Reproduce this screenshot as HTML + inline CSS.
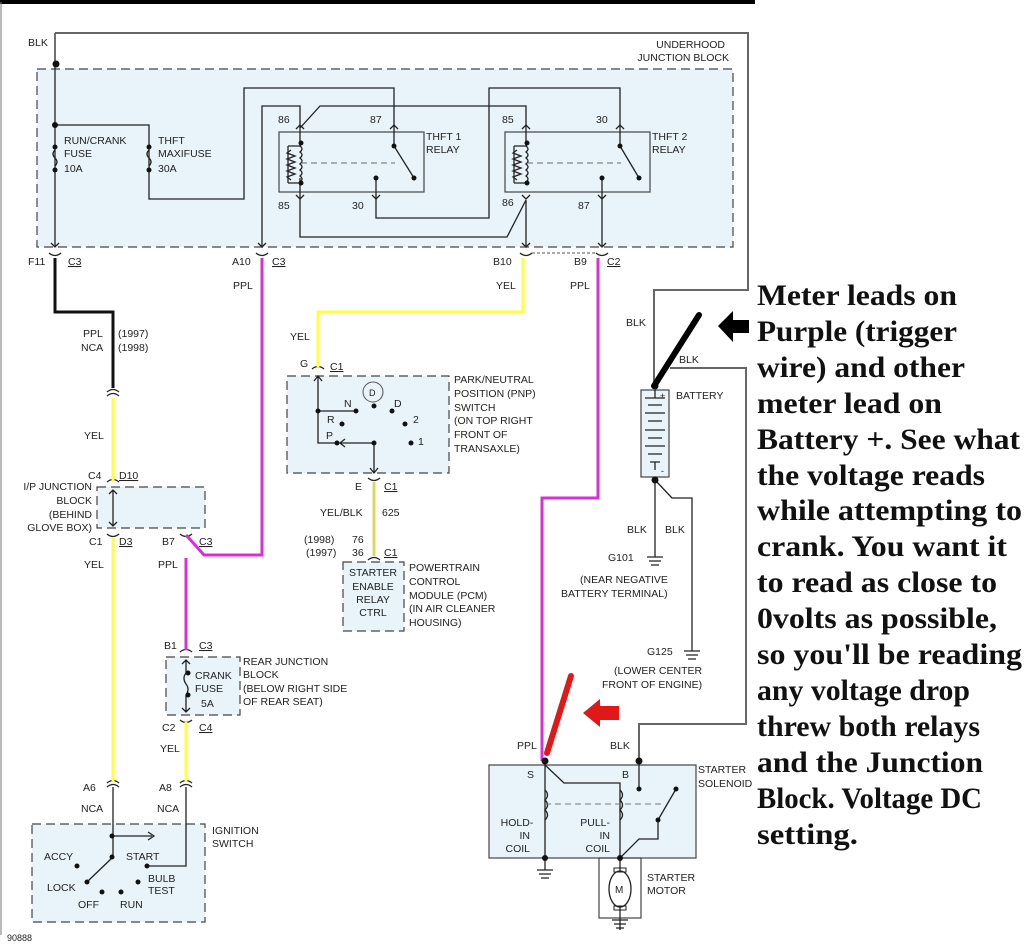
<!DOCTYPE html>
<html><head><meta charset="utf-8"><style>
html,body{margin:0;padding:0;background:#fff;}
svg{display:block;}
.t{font-family:"Liberation Sans",sans-serif;font-size:10.5px;fill:#222;}
.s{font-family:"Liberation Serif",serif;font-weight:bold;font-size:30px;fill:#111;}
</style></head><body>
<svg width="1030" height="950" viewBox="0 0 1030 950" xmlns="http://www.w3.org/2000/svg">
<rect width="1030" height="950" fill="#fff"/>
<line x1="0" y1="2" x2="755" y2="2" stroke="#000" stroke-width="4"/>
<line x1="1" y1="2" x2="1" y2="935" stroke="#777" stroke-width="1"/>

<g fill="#e8f4fa" stroke="#444" stroke-width="1.2" stroke-dasharray="9,5">
<rect x="37" y="69" width="696" height="178"/>
<rect x="97" y="487" width="108" height="41"/>
<rect x="287" y="376" width="162" height="97"/>
<rect x="343" y="562" width="61" height="69"/>
<rect x="166" y="657" width="74" height="58"/>
<rect x="32" y="824" width="173" height="98"/>
</g>
<g fill="#e8f4fa" stroke="#444" stroke-width="1.2">
<rect x="279" y="132" width="145" height="60"/>
<rect x="505" y="132" width="145" height="60"/>
<rect x="489" y="765" width="207" height="93"/>
<rect x="599" y="858" width="42" height="60" fill="none"/>
<rect x="641" y="390" width="28" height="87"/>
</g>

<g fill="none" stroke="#222" stroke-width="1.3">
<path d="M55,33 V247"/>
<path d="M55,125 H149 V199 H244 V88 H394 V146"/>
<path d="M262,247 V106 H300 V146"/>
<path d="M300,128 L320,106 H526 V146"/>
<path d="M300,178 V237 H507 L526,200 V247"/>
<path d="M376,178 V218 H489 V88 H620 V146"/>
<path d="M602,178 V247"/>
<path d="M394,146 L414,178"/><path d="M620,146 L639,178"/>
<path d="M288,146 H301 M288,183 H301 M288,146 V183"/>
<path d="M514,146 H527 M514,183 H527 M514,146 V183"/>
<path d="M291,150 l-4,3 8,3 -8,3 8,3 -8,3 8,3 -8,3 8,3 -8,3 4,3"/>
<path d="M517,150 l-4,3 8,3 -8,3 8,3 -8,3 8,3 -8,3 8,3 -8,3 4,3"/>
<path d="M300,146 q4,3 0,6 q4,3 0,6 q4,3 0,6 q4,3 0,6 q4,3 0,6 q4,3 0,6"/>
<path d="M526,146 q4,3 0,6 q4,3 0,6 q4,3 0,6 q4,3 0,6 q4,3 0,6 q4,3 0,6"/>
<path d="M55,150 q-4,4 0,8 q4,4 0,8"/><path d="M149,150 q-4,4 0,8 q4,4 0,8"/>
<path d="M51,243 l4,4 4,-4 M258,243 l4,4 4,-4 M522,243 l4,4 4,-4 M598,243 l4,4 4,-4"/>
<path d="M296,129 l4,-4 4,4 M390,129 l4,-4 4,4 M522,129 l4,-4 4,4 M616,129 l4,-4 4,4"/>
<path d="M296,195 l4,4 4,-4 M372,195 l4,4 4,-4 M522,195 l4,4 4,-4 M598,195 l4,4 4,-4"/>
<path d="M49,253 q6,5 12,0 M256,253 q6,5 12,0 M520,253 q6,5 12,0 M596,253 q6,5 12,0"/>
<path d="M107,392 q6,-5 12,0 M107,396 q6,-5 12,0"/>
<path d="M107,482 q6,-5 12,0 M107,534 q6,5 12,0 M180,534 q6,5 12,0 M312,369 q6,-5 12,0 M368,478 q6,5 12,0 M368,560 q6,-5 12,0 M180,652 q6,-5 12,0 M180,720 q6,5 12,0"/>
<path d="M107,783 q6,-5 12,0 M107,787 q6,-5 12,0 M180,783 q6,-5 12,0 M180,787 q6,-5 12,0"/>
<path d="M113,490 V526 M109,494 l4,-4 4,4 M109,522 l4,4 4,-4"/>
<path d="M318,376 V443 H337 M314,381 l4,-5 4,5 M318,411 H356 M374,443 H340 M345,439 l-5,4 5,4 M374,443 V473 M370,468 l4,5 4,-5"/>
<path d="M186,660 V673 M186,695 V712 M182,664 l4,-4 4,4 M182,708 l4,4 4,-4 M186,673 q-4,5 0,11 q4,5 0,11"/>
<path d="M113,787 V857 M113,836 H152 M148,832 l6,4 -6,4 M186,787 V866 H147 M113,857 L88,881"/>
<path d="M545,761 V870 M545,765 L564,783 H620 V858 M639,761 V789 M658,820 V839 H639 L620,858 M658,820 L676,789 M620,858 V930"/>
<path d="M545,790 q5,5 0,10 q5,5 0,10 q5,5 0,10 M620,790 q5,5 0,10 q5,5 0,10 q5,5 0,10"/>
<path d="M655,480 V557 M655,480 L672,498 H692 V651"/>
<path d="M645,398 H665 M648,405 H662 M645,413 H665 M648,421 H662 M645,430 H665 M648,438 H662 M645,446 H665 M648,454 H662 M650,462 H660 M655,462 V470 M655,390 V398"/>
</g>
<path d="M55,258 V312 H113 V388" fill="none" stroke="#111" stroke-width="3"/>
<ellipse cx="620" cy="889" rx="11" ry="18" fill="#fff" stroke="#222" stroke-width="1.3"/>
<rect x="614" y="868" width="12" height="4" fill="none" stroke="#222"/><rect x="614" y="906" width="12" height="4" fill="none" stroke="#222"/>
<circle cx="373" cy="392" r="10" fill="none" stroke="#555"/>
<g stroke="#222" stroke-width="1.3">
<path d="M647,557 h16 M649,561 h12 M651,565 h8 M684,651 h16 M686,655 h12 M688,659 h8 M537,870 h16 M539,874 h12 M541,878 h8 M612,920 h16 M614,924 h12 M616,928 h8"/>
</g>
<path d="M545,804 H665" stroke="#777" stroke-dasharray="6,4" fill="none"/>
<path d="M301,163 H395 M527,163 H621" stroke="#666" stroke-dasharray="6,4" fill="none"/>
<path d="M532,253 H595" stroke="#555" stroke-dasharray="3,2" fill="none"/>

<g fill="none" stroke="#666" stroke-width="2">
<path d="M55,33 H748 V290 H654 V388"/>
<path d="M670,368 H746 V724 H639 V761"/>
</g>
<g fill="none" stroke-width="3">
<path d="M262,258 V555 H204 L186,535 M186,558 V650" stroke="#d62fd6"/>
<path d="M598,258 V498 H542 V761" stroke="#d62fd6"/>
<path d="M523,258 V312 H318 V367" stroke="#ffff40"/>
<path d="M113,398 V482 M113,538 V782 M186,722 V782" stroke="#ffff40"/>
<path d="M374,482 V556" stroke="#d8d860"/>
</g>

<g fill="#111">
<circle cx="56" cy="64" r="3.5"/><circle cx="55" cy="125" r="3"/><circle cx="55" cy="147" r="2.5"/><circle cx="55" cy="170" r="2.5"/><circle cx="149" cy="147" r="2.5"/><circle cx="149" cy="170" r="2.5"/>
<circle cx="301" cy="143" r="2.5"/><circle cx="301" cy="183" r="2.5"/><circle cx="527" cy="143" r="2.5"/><circle cx="527" cy="183" r="2.5"/>
<circle cx="394" cy="146" r="2.5"/><circle cx="414" cy="178" r="2.5"/><circle cx="376" cy="178" r="2.5"/><circle cx="620" cy="146" r="2.5"/><circle cx="639" cy="178" r="2.5"/><circle cx="602" cy="178" r="2.5"/>
<circle cx="318" cy="411" r="2.5"/><circle cx="356" cy="411" r="2.5"/><circle cx="374" cy="406" r="2.5"/><circle cx="392" cy="411" r="2.5"/><circle cx="342" cy="424" r="2.5"/><circle cx="405" cy="424" r="2.5"/><circle cx="337" cy="443" r="2.5"/><circle cx="374" cy="443" r="2.5"/><circle cx="411" cy="443" r="2.5"/>
<circle cx="188" cy="673" r="2.5"/><circle cx="188" cy="695" r="2.5"/>
<circle cx="112" cy="836" r="2.5"/><circle cx="112" cy="857" r="2.5"/><circle cx="77" cy="866" r="2.5"/><circle cx="147" cy="866" r="2.5"/><circle cx="87" cy="882" r="2.5"/><circle cx="102" cy="892" r="2.5"/><circle cx="121" cy="892" r="2.5"/><circle cx="138" cy="882" r="2.5"/>
<circle cx="655" cy="386" r="3.5"/><circle cx="655" cy="480" r="3.5"/>
<circle cx="545" cy="761" r="3.5"/><circle cx="639" cy="761" r="3.5"/><circle cx="639" cy="789" r="2.5"/><circle cx="676" cy="789" r="2.5"/><circle cx="658" cy="820" r="2.5"/><circle cx="620" cy="858" r="3"/><circle cx="545" cy="858" r="3"/>
</g>

<line x1="699" y1="315" x2="654" y2="386" stroke="#000" stroke-width="6" stroke-linecap="round"/>
<polygon points="718,326 733,311 733,320 749,320 749,333 733,333 733,342" fill="#000"/>
<line x1="571" y1="676" x2="547" y2="753" stroke="#e01818" stroke-width="6" stroke-linecap="round"/>
<polygon points="583,713 600,699 600,706 619,706 619,720 600,720 600,727" fill="#e01818"/>

<g class="t">
<text x="28" y="46">BLK</text>
<text x="725" y="48" text-anchor="end">UNDERHOOD</text><text x="729" y="61" text-anchor="end">JUNCTION BLOCK</text>
<text x="64" y="144">RUN/CRANK</text><text x="64" y="157">FUSE</text><text x="64" y="172">10A</text>
<text x="158" y="144">THFT</text><text x="158" y="157">MAXIFUSE</text><text x="158" y="172">30A</text>
<text x="278" y="123">86</text><text x="370" y="123">87</text><text x="426" y="140">THFT 1</text><text x="426" y="153">RELAY</text>
<text x="278" y="209">85</text><text x="352" y="209">30</text>
<text x="502" y="123">85</text><text x="596" y="123">30</text><text x="652" y="140">THFT 2</text><text x="652" y="153">RELAY</text>
<text x="502" y="206">86</text><text x="578" y="209">87</text>
<text x="28" y="265">F11</text><text x="68" y="265" text-decoration="underline">C3</text>
<text x="232" y="265">A10</text><text x="272" y="265" text-decoration="underline">C3</text>
<text x="493" y="265">B10</text><text x="574" y="265">B9</text><text x="607" y="265" text-decoration="underline">C2</text>
<text x="233" y="289">PPL</text><text x="570" y="289">PPL</text><text x="496" y="289">YEL</text>
<text x="83" y="337">PPL</text><text x="118" y="337">(1997)</text><text x="81" y="351">NCA</text><text x="118" y="351">(1998)</text>
<text x="290" y="340">YEL</text>
<text x="300" y="367">G</text><text x="330" y="370" text-decoration="underline">C1</text>
<text x="454" y="383">PARK/NEUTRAL</text><text x="454" y="397">POSITION (PNP)</text><text x="454" y="411">SWITCH</text><text x="454" y="424">(ON TOP RIGHT</text><text x="454" y="438">FRONT OF</text><text x="454" y="452">TRANSAXLE)</text>
<text x="369" y="396" font-size="9">D</text><text x="344" y="407">N</text><text x="394" y="407">D</text><text x="327" y="423">R</text><text x="413" y="423">2</text><text x="326" y="439">P</text><text x="418" y="445">1</text>
<text x="84" y="439">YEL</text>
<text x="88" y="479">C4</text><text x="119" y="479" text-decoration="underline">D10</text>
<text x="92" y="490" text-anchor="end">I/P JUNCTION</text><text x="92" y="504" text-anchor="end">BLOCK</text><text x="92" y="518" text-anchor="end">(BEHIND</text><text x="92" y="531" text-anchor="end">GLOVE BOX)</text>
<text x="355" y="490">E</text><text x="384" y="490" text-decoration="underline">C1</text>
<text x="320" y="516">YEL/BLK</text><text x="382" y="516">625</text>
<text x="89" y="545">C1</text><text x="119" y="545" text-decoration="underline">D3</text>
<text x="162" y="545">B7</text><text x="199" y="545" text-decoration="underline">C3</text>
<text x="304" y="543">(1998)</text><text x="352" y="543">76</text><text x="306" y="556">(1997)</text><text x="352" y="556">36</text><text x="384" y="556" text-decoration="underline">C1</text>
<text x="84" y="568">YEL</text><text x="158" y="568">PPL</text>
<text x="373" y="576" text-anchor="middle">STARTER</text><text x="373" y="590" text-anchor="middle">ENABLE</text><text x="373" y="603" text-anchor="middle">RELAY</text><text x="373" y="616" text-anchor="middle">CTRL</text>
<text x="409" y="571">POWERTRAIN</text><text x="409" y="585">CONTROL</text><text x="409" y="599">MODULE (PCM)</text><text x="409" y="612">(IN AIR CLEANER</text><text x="409" y="626">HOUSING)</text>
<text x="626" y="326">BLK</text><text x="679" y="363">BLK</text><text x="676" y="399">BATTERY</text><text x="660" y="399" font-size="9">+</text><text x="661" y="474" font-size="9">-</text>
<text x="627" y="533">BLK</text><text x="665" y="533">BLK</text>
<text x="608" y="561">G101</text><text x="580" y="583">(NEAR NEGATIVE</text><text x="561" y="597">BATTERY TERMINAL)</text>
<text x="647" y="655">G125</text><text x="614" y="674">(LOWER CENTER</text><text x="602" y="688">FRONT OF ENGINE)</text>
<text x="164" y="649">B1</text><text x="199" y="649" text-decoration="underline">C3</text>
<text x="243" y="665">REAR JUNCTION</text><text x="243" y="678">BLOCK</text><text x="243" y="692">(BELOW RIGHT SIDE</text><text x="243" y="705">OF REAR SEAT)</text>
<text x="195" y="679">CRANK</text><text x="195" y="692">FUSE</text><text x="201" y="707">5A</text>
<text x="162" y="731">C2</text><text x="199" y="731" text-decoration="underline">C4</text>
<text x="160" y="752">YEL</text>
<text x="517" y="749">PPL</text><text x="610" y="749">BLK</text>
<text x="527" y="778">S</text><text x="622" y="778">B</text><text x="698" y="773">STARTER</text><text x="698" y="787">SOLENOID</text>
<text x="83" y="791">A6</text><text x="159" y="791">A8</text><text x="81" y="812">NCA</text><text x="157" y="812">NCA</text>
<text x="212" y="834">IGNITION</text><text x="212" y="847">SWITCH</text>
<text x="517" y="826" text-anchor="middle">HOLD-</text><text x="530" y="839" text-anchor="end">IN</text><text x="530" y="852" text-anchor="end">COIL</text>
<text x="610" y="826" text-anchor="end">PULL-</text><text x="610" y="839" text-anchor="end">IN</text><text x="610" y="852" text-anchor="end">COIL</text>
<text x="44" y="860">ACCY</text><text x="126" y="860">START</text><text x="47" y="891">LOCK</text><text x="148" y="882">BULB</text><text x="148" y="894">TEST</text><text x="78" y="908">OFF</text><text x="120" y="908">RUN</text>
<text x="615" y="893" font-size="10">M</text>
<text x="647" y="881">STARTER</text><text x="647" y="894">MOTOR</text>
<text x="7" y="941" font-size="9">90888</text>
</g>

<g class="s">
<text x="757" y="305" textLength="200" lengthAdjust="spacingAndGlyphs">Meter leads on</text>
<text x="757" y="341" textLength="200" lengthAdjust="spacingAndGlyphs">Purple (trigger</text>
<text x="757" y="377" textLength="208" lengthAdjust="spacingAndGlyphs">wire) and other</text>
<text x="757" y="413" textLength="185" lengthAdjust="spacingAndGlyphs">meter lead on</text>
<text x="757" y="449" textLength="263" lengthAdjust="spacingAndGlyphs">Battery +. See what</text>
<text x="757" y="485" textLength="228" lengthAdjust="spacingAndGlyphs">the voltage reads</text>
<text x="757" y="520" textLength="265" lengthAdjust="spacingAndGlyphs">while attempting to</text>
<text x="757" y="556" textLength="250" lengthAdjust="spacingAndGlyphs">crank. You want it</text>
<text x="757" y="592" textLength="240" lengthAdjust="spacingAndGlyphs">to read as close to</text>
<text x="757" y="628" textLength="240" lengthAdjust="spacingAndGlyphs">0volts as possible,</text>
<text x="757" y="664" textLength="265" lengthAdjust="spacingAndGlyphs">so you'll be reading</text>
<text x="757" y="700" textLength="213" lengthAdjust="spacingAndGlyphs">any voltage drop</text>
<text x="757" y="736" textLength="223" lengthAdjust="spacingAndGlyphs">threw both relays</text>
<text x="757" y="772" textLength="226" lengthAdjust="spacingAndGlyphs">and the Junction</text>
<text x="757" y="808" textLength="225" lengthAdjust="spacingAndGlyphs">Block. Voltage DC</text>
<text x="757" y="844" textLength="101" lengthAdjust="spacingAndGlyphs">setting.</text>
</g>
</svg>
</body></html>
